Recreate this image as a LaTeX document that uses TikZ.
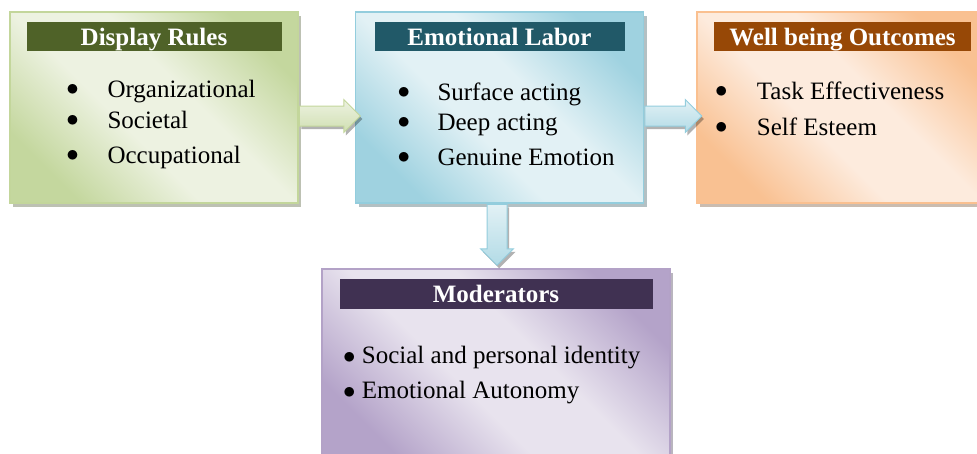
\documentclass[tikz,border=0pt]{standalone}
\usepackage{fontspec}
\setmainfont{Liberation Serif}
\usetikzlibrary{positioning,shapes.arrows,shadows}
% one line / dark / light / heading colour per panel
\definecolor{grnline}{HTML}{C3D69B}
\definecolor{grndark}{HTML}{C4D79E}
\definecolor{grnlight}{HTML}{EDF2E1}
\definecolor{grnhead}{HTML}{4F6228}
\definecolor{bluline}{HTML}{93CDDD}
\definecolor{bludark}{HTML}{9FD2E0}
\definecolor{blulight}{HTML}{E2F1F5}
\definecolor{bluhead}{HTML}{215968}
\definecolor{orgline}{HTML}{FAC090}
\definecolor{orgdark}{HTML}{F9C192}
\definecolor{orglight}{HTML}{FDEBDD}
\definecolor{orghead}{HTML}{974806}
\definecolor{purline}{HTML}{B3A2C7}
\definecolor{purdark}{HTML}{B4A3C9}
\definecolor{purlight}{HTML}{E8E3EE}
\definecolor{purhead}{HTML}{403152}
\colorlet{pnldark}{grndark}
\colorlet{pnllight}{grnlight}
% dark corners, wide light band across the middle
\pgfdeclareverticalshading[pnldark,pnllight]{panelshade}{100bp}{%
  color(0bp)=(pnldark); color(25bp)=(pnldark); color(43bp)=(pnllight);
  color(57bp)=(pnllight); color(75bp)=(pnldark); color(100bp)=(pnldark)}
\newcommand{\bigdot}{\raisebox{1.5pt}{\fontsize{30}{30}\selectfont$\bullet$}}
\newcommand{\smalldot}{\raisebox{-0.5pt}{\fontsize{24}{24}\selectfont$\bullet$}}

\begin{document}
\begin{tikzpicture}[x=1pt, y=-1pt,
  panel/.style={draw=#1line, line width=1.5pt,
    /utils/exec={\colorlet{pnldark}{#1dark}\colorlet{pnllight}{#1light}},
    shading=panelshade, shading angle=-45, minimum width=288pt, minimum height=191pt,
    inner sep=0pt, drop shadow={shadow xshift=3pt, shadow yshift=-4pt, fill=#1dark!55!black, opacity=0.45}},
  bar/.style={fill=#1head, text=white, minimum height=29pt, inner sep=0pt,
    text height=17pt, text depth=0pt, font=\fontsize{25}{30}\selectfont\bfseries},
  flow/.style={single arrow, draw=#1line, line width=1pt, top color=#1light, bottom color=#1dark!80,
    inner sep=9.5pt, single arrow head extend=6.5pt, single arrow tip angle=90,
    drop shadow={shadow xshift=2pt, shadow yshift=-3pt, fill=black, opacity=0.3}},
  items/.style={anchor=base west, inner sep=0pt, font=\fontsize{25}{30}\selectfont}]
  \path[use as bounding box, clip] (0,0) rectangle (977,453);

  % the four panels
  \node[panel=grn] (rules) at (154,107.5) {};
  \node[panel=blu] (labor) at (499.5,107.5) {};
  \node[panel=org] (wellbeing) at (841,107.5) {};
  \node[panel=pur, minimum width=348pt, minimum height=192pt] (moder) at (496,365) {};

  % headings
  \node[bar=grn, minimum width=255pt, below=11pt of rules.north] (rulestitle) {Display Rules};
  \node[bar=blu, minimum width=250pt, below=11pt of labor.north] (labortitle) {Emotional Labor};
  \node[bar=org, minimum width=257pt, below=11pt of wellbeing.north, xshift=1.5pt] (welltitle) {Well being Outcomes};
  \node[bar=pur, minimum width=313pt, minimum height=30pt, below=11pt of moder.north] (modertitle) {Moderators};

  % bullet lists
  \node[items] (ruleslist) at (66.2,97) {\begin{tabular}[t]{@{}p{41.1pt}@{}l@{}}
    \bigdot & Organizational\\[1pt]
    \bigdot & Societal\\[5pt]
    \bigdot & Occupational
  \end{tabular}};
  \node[items] (laborlist) at (397.5,100) {\begin{tabular}[t]{@{}p{39.8pt}@{}l@{}}
    \bigdot & Surface acting\\
    \bigdot & Deep acting\\[5pt]
    \bigdot & Genuine Emotion
  \end{tabular}};
  \node[items] (welllist) at (715,99) {\begin{tabular}[t]{@{}p{41.7pt}@{}l@{}}
    \bigdot & Task Effectiveness\\[6pt]
    \bigdot & Self Esteem
  \end{tabular}};
  \node[items] (moderlist) at (343,363) {\begin{tabular}[t]{@{}p{18.7pt}@{}l@{}}
    \smalldot & Social and personal identity\\[5pt]
    \smalldot & Emotional Autonomy
  \end{tabular}};

  % block arrows between the panels
  \node[flow=grn, minimum height=61pt, anchor=tail] (toLabor) at ([yshift=-8.5pt]rules.east) {};
  \node[flow=blu, minimum height=57pt, anchor=tail] (toWell) at ([yshift=-8.5pt]labor.east) {};
  \node[flow=blu, minimum height=61pt, shape border rotate=270, anchor=tail] (toModer) at ([xshift=-2.5pt]labor.south) {};
\end{tikzpicture}
\end{document}
